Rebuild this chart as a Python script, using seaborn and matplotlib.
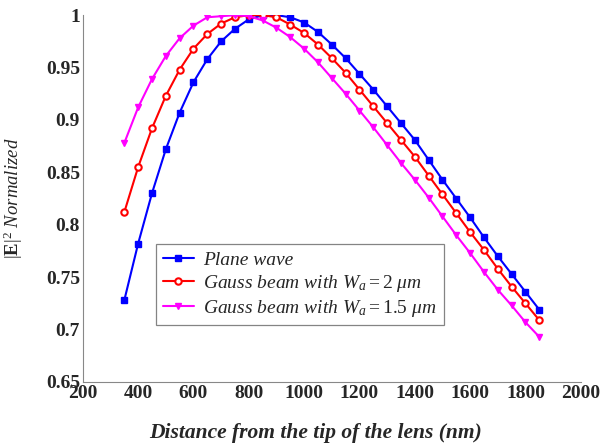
import numpy as np
import pandas as pd
import matplotlib
matplotlib.use("Agg")
import matplotlib.pyplot as plt
import seaborn as sns

# ---- data ----
distance = list(range(350, 1851, 50))

plane_wave = [0.728, 0.782, 0.830, 0.872, 0.907, 0.936, 0.958, 0.975, 0.987, 0.996,
              1.000, 1.000, 0.998, 0.993, 0.984, 0.972, 0.959, 0.944, 0.929, 0.913,
              0.897, 0.881, 0.862, 0.843, 0.825, 0.807, 0.788, 0.770, 0.753, 0.736, 0.719]

gauss_2um = [0.812, 0.855, 0.892, 0.923, 0.948, 0.968, 0.982, 0.992, 0.998, 1.000,
             1.000, 0.998, 0.991, 0.983, 0.972, 0.959, 0.945, 0.929, 0.913, 0.897,
             0.881, 0.865, 0.847, 0.829, 0.811, 0.793, 0.776, 0.758, 0.741, 0.725, 0.709]

gauss_15um = [0.878, 0.912, 0.939, 0.961, 0.978, 0.990, 0.998, 0.999, 1.000, 0.999,
              0.995, 0.988, 0.979, 0.968, 0.955, 0.940, 0.925, 0.909, 0.893, 0.876,
              0.859, 0.843, 0.826, 0.808, 0.790, 0.773, 0.755, 0.738, 0.723, 0.707, 0.693]

labels = [r"Plane wave",
          r"Gauss beam with $W_a = 2\ \mu m$",
          r"Gauss beam with $W_a = 1.5\ \mu m$"]

df = pd.DataFrame({
    "Distance": distance * 3,
    "E2": plane_wave + gauss_2um + gauss_15um,
    "Series": [labels[0]] * len(distance) + [labels[1]] * len(distance) + [labels[2]] * len(distance),
})

# ---- style ----
sns.set_style("white")
plt.rcParams["font.family"] = ["Liberation Serif", "DejaVu Serif"]
plt.rcParams["mathtext.fontset"] = "custom"
plt.rcParams["mathtext.rm"] = "Liberation Serif"
plt.rcParams["mathtext.it"] = "Liberation Serif:italic"
plt.rcParams["mathtext.bf"] = "Liberation Serif:bold"

fig = plt.figure(figsize=(6.0, 4.46), dpi=100)
ax = fig.add_axes([0.138, 0.1435, 0.830, 0.8225])

styles = {
    labels[0]: dict(color="#0000ff", marker="s", markerfacecolor="#0000ff", markersize=4.0),
    labels[1]: dict(color="#ff0000", marker="o", markerfacecolor="white", markersize=4.6,
                    markeredgewidth=1.5),
    labels[2]: dict(color="#ff00ff", marker="v", markerfacecolor="#ff00ff", markersize=5.0),
}

for lab in labels:
    sub = df[df["Series"] == lab]
    st = styles[lab]
    sns.lineplot(data=sub, x="Distance", y="E2", ax=ax, label=lab,
                 color=st["color"], marker=st["marker"],
                 markerfacecolor=st["markerfacecolor"], markeredgecolor=st["color"],
                 markersize=st["markersize"], markeredgewidth=st.get("markeredgewidth", 1.0),
                 linewidth=1.5)

ax.set_xlim(200, 2000)
ax.set_ylim(0.65, 1.0)
ax.set_xticks(range(200, 2001, 200))
ax.set_yticks([0.65, 0.7, 0.75, 0.8, 0.85, 0.9, 0.95, 1.0])
ax.set_yticklabels(["0.65", "0.7", "0.75", "0.8", "0.85", "0.9", "0.95", "1"])

for s in ["top", "right"]:
    ax.spines[s].set_visible(False)
for s in ["left", "bottom"]:
    ax.spines[s].set_color("#888888")
    ax.spines[s].set_linewidth(0.8)

ax.tick_params(direction="in", length=4, color="#888888", labelsize=14, pad=2)
for t in ax.get_xticklabels() + ax.get_yticklabels():
    t.set_fontweight("bold")

ax.set_xlabel("Distance from the tip of the lens (nm)", fontsize=15.5,
              fontweight="bold", fontstyle="italic")
ax.xaxis.set_label_coords(0.468, -0.112)
ax.set_ylabel(r"$|\mathbf{E}|^2$ Normalized", fontsize=13.5, fontstyle="italic")
ax.yaxis.set_label_coords(-0.117, 0.5)

leg = ax.legend(loc="lower left", bbox_to_anchor=(0.127, 0.128),
                frameon=True, fancybox=False, shadow=False, fontsize=14,
                handlelength=1.6, handletextpad=0.5, borderpad=0.35, labelspacing=0.2)
leg.get_frame().set_edgecolor("#666666")
leg.get_frame().set_linewidth(0.9)
for t in leg.get_texts():
    t.set_fontstyle("italic")

fig.savefig("out.png", dpi=100)
